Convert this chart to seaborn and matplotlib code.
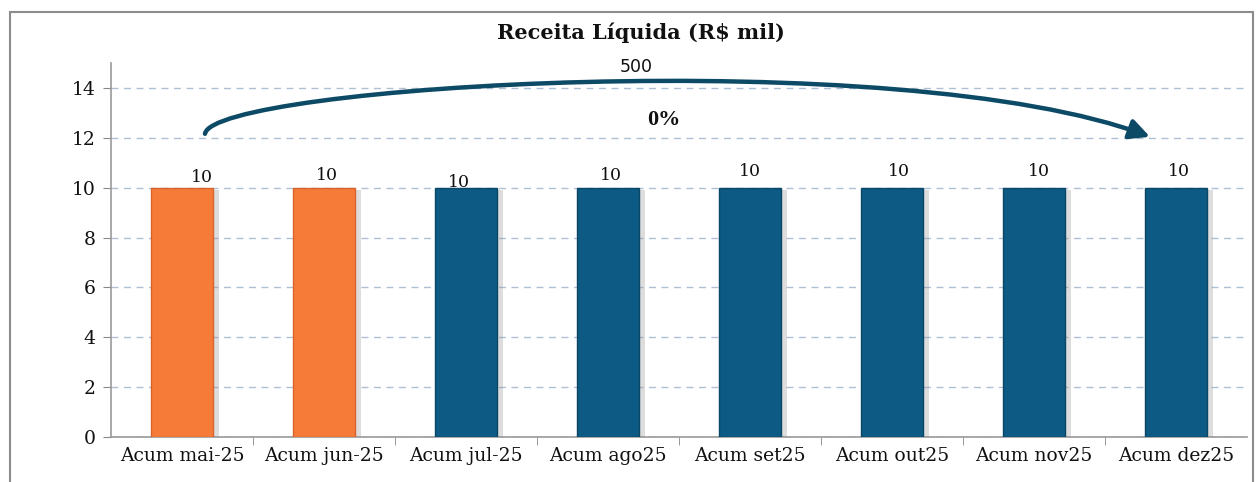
import matplotlib
matplotlib.use("Agg")
import matplotlib.pyplot as plt
import matplotlib.patheffects as pe
import seaborn as sns
import pandas as pd
from matplotlib.patches import FancyArrowPatch, Rectangle
from matplotlib.path import Path

categories = ["Acum mai-25", "Acum jun-25", "Acum jul-25", "Acum ago25",
              "Acum set25", "Acum out25", "Acum nov25", "Acum dez25"]
values = [10, 10, 10, 10, 10, 10, 10, 10]
groups = ["real", "real", "proj", "proj", "proj", "proj", "proj", "proj"]
value_labels = ["10", "10", "10", "10", "10", "10", "10", "10"]
arrow_top_label = "500"
arrow_pct_label = "0%"
title = "Receita Líquida (R$ mil)"
yticks = [0, 2, 4, 6, 8, 10, 12, 14]

df = pd.DataFrame({"cat": categories, "val": values, "grp": groups})

sns.set_style("white")
plt.rcParams["font.family"] = ["DejaVu Serif", "DejaVu Sans"]

fig = plt.figure(figsize=(12.58, 4.82), dpi=100)
ax = fig.add_axes([111/1258, 45/482, 1136/1258, 374/482])

palette = {"real": "#F67B38", "proj": "#0D5B85"}
sns.barplot(data=df, x="cat", y="val", hue="grp", palette=palette,
            dodge=False, width=0.44, legend=False, ax=ax, saturation=1)
edge = {"real": "#D9622A", "proj": "#0A4666"}
for p, g in zip(ax.patches, groups):
    p.set_edgecolor(edge[g])
    p.set_linewidth(1.0)
    p.set_zorder(3)
    p.set_path_effects([pe.SimplePatchShadow(offset=(4, -2), shadow_rgbFace="#888888", alpha=0.28),
                        pe.Normal()])

ax.set_ylim(0, 15)
ax.set_xlim(-0.5, len(categories) - 0.5)
ax.set_yticks(yticks)
ax.set_xticks(range(len(categories)))
ax.set_xticklabels(categories)
ax.set_xlabel("")
ax.set_ylabel("")
ax.tick_params(axis="x", which="major", labelsize=13.5, colors="#111111", length=0, pad=7)
ax.tick_params(axis="y", labelsize=13.5, colors="#111111", left=True, length=6,
               color="#888888", direction="out", pad=5)

# minor ticks between categories on x axis
ax.set_xticks([i + 0.5 for i in range(len(categories) - 1)], minor=True)
ax.tick_params(axis="x", which="minor", bottom=True, length=6, color="#888888", direction="out")

ax.yaxis.grid(True, linestyle=(0, (5, 4)), color="#AFC0D2", linewidth=1.0, zorder=0)
ax.set_axisbelow(True)
for s in ["top", "right"]:
    ax.spines[s].set_visible(False)
for s in ["left", "bottom"]:
    ax.spines[s].set_color("#999999")
    ax.spines[s].set_linewidth(1.2)

# value labels
lab_dx = [20, 3, -7, 3, 0, 7, 5, 3]
lab_dy = [10, 12, 5, 12, 16, 16, 16, 16]
for i, (v, lab) in enumerate(zip(values, value_labels)):
    ax.annotate(lab, (i, v), xytext=(lab_dx[i], lab_dy[i]), textcoords="offset pixels",
                ha="center", va="center", fontsize=12.5, color="#111111", zorder=5)

# curved arrow (cubic bezier, data coords)
def px2data(px, py):
    return ((px - 111) / 142 - 0.5, (437 - py) / 25)

verts = [px2data(205, 133), px2data(212, 85), px2data(900, 42), px2data(1150, 136)]
path = Path(verts, [Path.MOVETO, Path.CURVE4, Path.CURVE4, Path.CURVE4])
arr = FancyArrowPatch(path=path,
                      arrowstyle="-|>,head_length=12,head_width=6",
                      color="#0D4A66", linewidth=3.2, zorder=6,
                      capstyle="round", clip_on=False, shrinkA=0, shrinkB=0,
                      transform=ax.transData)
ax.add_patch(arr)

ax.text(3.20, 14.85, arrow_top_label, ha="center", va="center",
        fontsize=12.5, family="DejaVu Sans", color="#111111")
ax.text(3.39, 12.72, arrow_pct_label, ha="center", va="center",
        fontsize=16, family=["Liberation Serif"], fontweight="bold", color="#111111")

fig.text(641/1258, 1 - 33/482, title, ha="center", va="center",
         fontsize=15, fontweight="bold", color="#111111")

# outer frame
fig.patches.append(Rectangle((10/1258, -0.05), 1243/1258, (482 - 12)/482 + 0.05,
                             transform=fig.transFigure, fill=False,
                             edgecolor="#8C8C8C", linewidth=1.5, zorder=0))

fig.savefig("out.png", dpi=100)
